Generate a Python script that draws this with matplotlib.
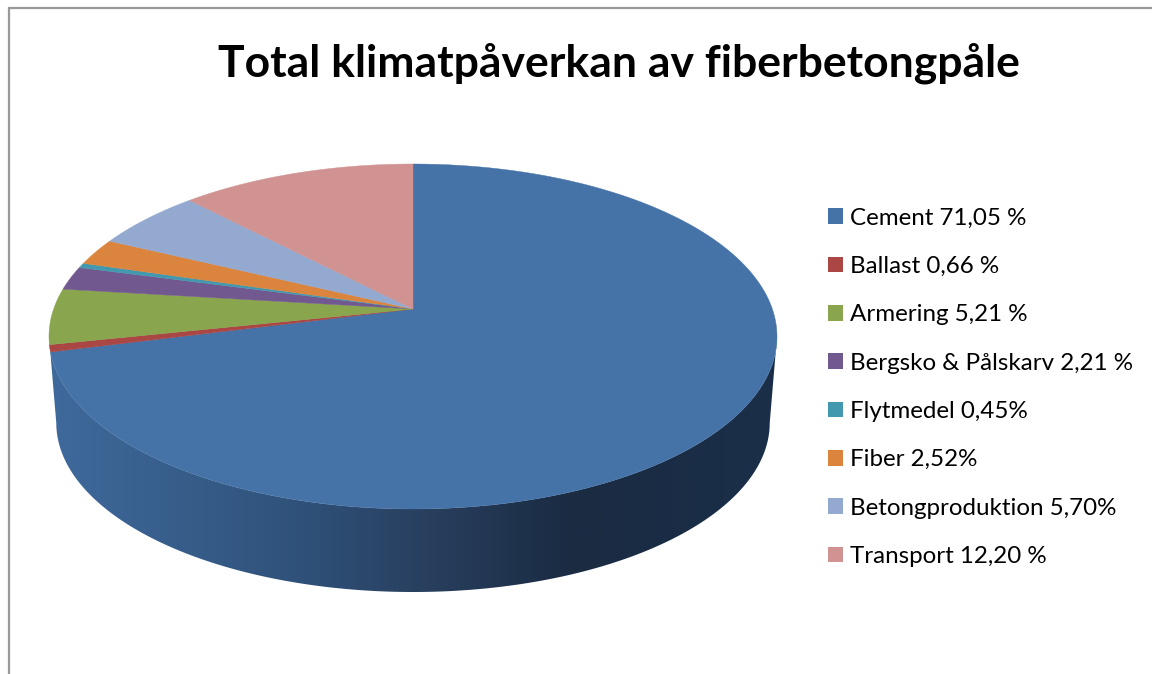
"""Total klimatpåverkan av fiberbetongpåle: perspective 3D pie in pixel coordinates."""

import matplotlib
matplotlib.use("Agg")
import matplotlib.pyplot as plt
import numpy as np
from matplotlib.colors import LinearSegmentedColormap
from matplotlib.patches import Patch, Polygon

plt.rcParams["font.family"] = ["Lato", "DejaVu Sans"]

title = "Total klimatpåverkan av fiberbetongpåle"
parts = ["Cement", "Ballast", "Armering", "Bergsko & Pålskarv",
         "Flytmedel", "Fiber", "Betongproduktion", "Transport"]
shares = [71.05, 0.66, 5.21, 2.21, 0.45, 2.52, 5.70, 12.20]
share_labels = ["71,05 %", "0,66 %", "5,21 %", "2,21 %",
                "0,45%", "2,52%", "5,70%", "12,20 %"]
colors = ["#4572A7", "#AA4643", "#89A54E", "#71588F",
          "#4198AF", "#DB843D", "#93A9CF", "#D19392"]

# Side wall shading, left to right
side_stops = [(0.0, "#3F6A9C"), (0.35, "#2F5179"), (0.52, "#283F5E"),
              (0.72, "#1A2B42"), (1.0, "#1A2F49")]

# Disc geometry: a circle seen in perspective, so the apex sits above
# the middle of the ellipse
CX, APEX_Y = 413.0, 309.0
PERSP = 55.0 / 345.0
RX = 364.0 * np.sqrt(1 - PERSP ** 2)
RY = 145.0 * (1 + PERSP)
BOTTOM_Y, BOTTOM_SCALE = 396.0, 0.98


def project(theta, base_y=APEX_Y, scale=1.0):
    """Map clockwise-from-top angles on the disc to picture pixels."""
    x, y = np.sin(theta), np.cos(theta)
    w = 1 + PERSP * y
    return CX + scale * RX * x / w, base_y - scale * RY * y / w


def main() -> None:
    fig = plt.figure(figsize=(11.52, 6.74), dpi=100)
    ax = fig.add_axes([0, 0, 1, 1])

    # ── Side wall ──────────────────────────────────────────────────────────
    left, right = 2 * np.pi - np.arccos(-PERSP), np.arccos(-PERSP)
    sweep = np.linspace(right, left, 300)
    top_x, top_y = project(sweep)
    low_x, low_y = project(sweep[::-1], BOTTOM_Y, BOTTOM_SCALE)
    side = Polygon(np.column_stack([np.r_[top_x, low_x], np.r_[top_y, low_y]]),
                   closed=True, facecolor="none", edgecolor="none")
    ax.add_patch(side)
    cmap = LinearSegmentedColormap.from_list("side", side_stops)
    grad = ax.imshow(np.linspace(0, 1, 512)[None, :], cmap=cmap, aspect="auto",
                     extent=(top_x.min(), top_x.max(), 600, 340), zorder=1)
    grad.set_clip_path(side)

    # ── Top slices ─────────────────────────────────────────────────────────
    edges = np.cumsum([0.0] + shares) / sum(shares) * 2 * np.pi
    for start, end, color in zip(edges[:-1], edges[1:], colors):
        rim_x, rim_y = project(np.linspace(start, end, 200))
        pts = np.column_stack([np.r_[CX, rim_x], np.r_[APEX_Y, rim_y]])
        ax.add_patch(Polygon(pts, closed=True, facecolor=color,
                             edgecolor=color, linewidth=0.3, zorder=2))

    # ── Chart frame and title ──────────────────────────────────────────────
    ax.plot([8.5, 8.5, 1152], [674, 7.5, 7.5], color="#999999", lw=1.6,
            solid_joinstyle="miter", zorder=3)
    ax.text(619, 76, title, fontsize=32, fontweight="bold", color="black",
            ha="center", va="baseline")

    # ── Legend ─────────────────────────────────────────────────────────────
    handles = [Patch(facecolor=c, edgecolor="none") for c in colors]
    labels = [f"{p} {s}" for p, s in zip(parts, share_labels)]
    ax.legend(handles, labels, loc="upper left", frameon=False,
              bbox_to_anchor=(828 / 1152, 1 - 207.5 / 674), borderpad=0,
              borderaxespad=0, fontsize=17.35, handlelength=0.62,
              handleheight=0.62, handletextpad=0.305, labelspacing=1.135,
              labelcolor="black")

    ax.set_xlim(0, 1152)
    ax.set_ylim(674, 0)
    ax.axis("off")
    fig.savefig("out.png", dpi=100)
    plt.close(fig)


if __name__ == "__main__":
    main()
